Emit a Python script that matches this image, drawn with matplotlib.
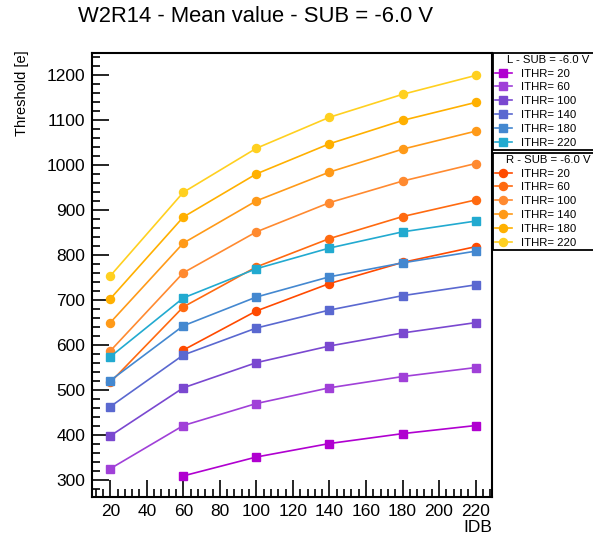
import numpy as np
import matplotlib
matplotlib.use("Agg")
import matplotlib.pyplot as plt
from matplotlib.ticker import MultipleLocator

plt.rcParams["font.family"] = ["Liberation Sans", "DejaVu Sans"]

# data
idb = [20, 60, 100, 140, 180, 220]
ithr = [20, 60, 100, 140, 180, 220]
nan = np.nan

L_20 = [nan, 309, 351, 381, 403, 421]
L_60 = [325, 421, 470, 505, 530, 550]
L_100 = [398, 505, 561, 598, 627, 650]
L_140 = [463, 578, 638, 678, 710, 734]
L_180 = [521, 643, 707, 752, 783, 809]
L_220 = [574, 705, 770, 816, 852, 876]

R_20 = [nan, 589, 676, 737, 784, 819]
R_60 = [517, 685, 774, 837, 886, 923]
R_100 = [587, 761, 852, 917, 965, 1004]
R_140 = [650, 827, 921, 985, 1036, 1076]
R_180 = [703, 885, 981, 1048, 1100, 1140]
R_220 = [754, 940, 1038, 1107, 1158, 1200]

L_series = [L_20, L_60, L_100, L_140, L_180, L_220]
R_series = [R_20, R_60, R_100, R_140, R_180, R_220]

L_colors = ["#b000d0", "#a040d8", "#7a48d0", "#5a68d0", "#4488d0", "#22aad0"]
R_colors = ["#ff4a00", "#ff6a10", "#ff8a30", "#ff9a18", "#ffb000", "#ffd020"]

W, H = 593, 536
fig = plt.figure(figsize=(W / 100, H / 100), dpi=100)
ax = fig.add_axes([92 / W, 1 - 497 / H, 400 / W, 444 / H])

r_handles = []
for vals, col, t in zip(R_series, R_colors, ithr):
    h, = ax.plot(idb, vals, color=col, lw=1.2, marker="o", ms=5.8,
                 mec=col, mfc=col, label=f"ITHR= {t}")
    r_handles.append(h)

l_handles = []
for vals, col, t in zip(L_series, L_colors, ithr):
    h, = ax.plot(idb, vals, color=col, lw=1.2, marker="s", ms=5.8,
                 mec=col, mfc=col, label=f"ITHR= {t}")
    l_handles.append(h)

ax.set_xlim(10, 229)
ax.set_ylim(262, 1250)
ax.xaxis.set_major_locator(MultipleLocator(20))
ax.xaxis.set_minor_locator(MultipleLocator(4))
ax.yaxis.set_major_locator(MultipleLocator(100))
ax.yaxis.set_minor_locator(MultipleLocator(20))
ax.tick_params(which="both", direction="in", top=False, right=False,
               labelsize=12.5, width=1.2)
ax.tick_params(which="major", length=12, pad=5)
ax.tick_params(which="minor", length=6)
for s in ax.spines.values():
    s.set_linewidth(1.5)

fig.text(256 / W, 1 - 17 / H, "W2R14 - Mean value - SUB = -6.0 V",
         ha="center", va="center", fontsize=15.8)
fig.text(22 / W, 1 - 50 / H, "Threshold [e]", rotation=90,
         ha="center", va="top", fontsize=10.5)
fig.text(492 / W, 1 - 527 / H, "IDB", ha="right", va="center", fontsize=12.5)

leg_kw = dict(loc="upper left", fontsize=8.2, title_fontsize=8.2,
              fancybox=False, framealpha=1, edgecolor="black", mode="expand",
              borderaxespad=0, borderpad=0.15, labelspacing=0.34,
              handlelength=1.5, handletextpad=0.8)
leg1 = fig.legend(l_handles, [h.get_label() for h in l_handles],
                  title="L - SUB = -6.0 V",
                  bbox_to_anchor=(493 / W, 1 - 153 / H, 110 / W, 100 / H),
                  **leg_kw)
leg2 = fig.legend(r_handles, [h.get_label() for h in r_handles],
                  title="R - SUB = -6.0 V",
                  bbox_to_anchor=(493 / W, 1 - 253 / H, 110 / W, 100 / H),
                  **leg_kw)
for lg in (leg1, leg2):
    lg.get_frame().set_linewidth(1.3)

fig.savefig("out.png", dpi=100)
